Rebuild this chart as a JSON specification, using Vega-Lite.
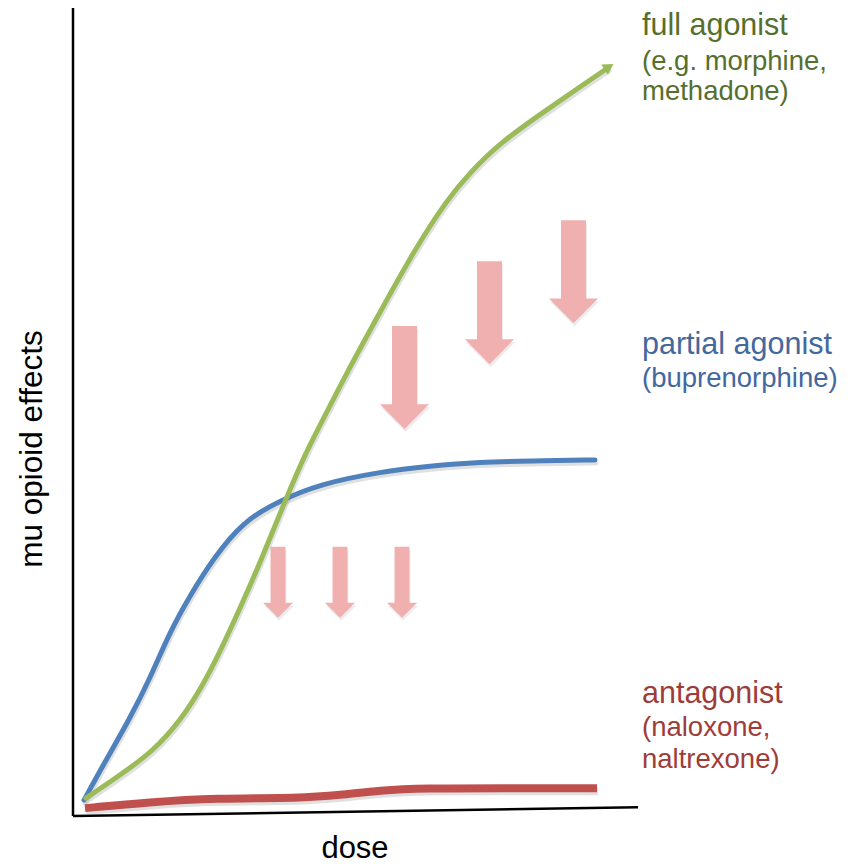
{
  "$schema": "https://vega.github.io/schema/vega-lite/v6.json",
  "width": 853,
  "height": 864,
  "padding": 0,
  "autosize": {"type": "fit", "contains": "padding"},
  "background": "white",
  "config": {"view": {"stroke": null}},
  "datasets": {
    "curves": [
      {"series": "full", "dose": 13, "effect": 18},
      {"series": "full", "dose": 47, "effect": 41},
      {"series": "full", "dose": 80, "effect": 65},
      {"series": "full", "dose": 107, "effect": 95},
      {"series": "full", "dose": 130, "effect": 131},
      {"series": "full", "dose": 150, "effect": 171},
      {"series": "full", "dose": 170, "effect": 215},
      {"series": "full", "dose": 190, "effect": 261},
      {"series": "full", "dose": 210, "effect": 311},
      {"series": "full", "dose": 230, "effect": 358},
      {"series": "full", "dose": 240, "effect": 378},
      {"series": "full", "dose": 274, "effect": 445},
      {"series": "full", "dose": 307, "effect": 505},
      {"series": "full", "dose": 340, "effect": 565},
      {"series": "full", "dose": 374, "effect": 618},
      {"series": "full", "dose": 397, "effect": 645},
      {"series": "full", "dose": 427, "effect": 675},
      {"series": "full", "dose": 474, "effect": 708},
      {"series": "full", "dose": 507, "effect": 731},
      {"series": "full", "dose": 535, "effect": 750},
      {"series": "partial", "dose": 11, "effect": 16},
      {"series": "partial", "dose": 30, "effect": 51},
      {"series": "partial", "dose": 57, "effect": 98},
      {"series": "partial", "dose": 77, "effect": 138},
      {"series": "partial", "dose": 97, "effect": 185},
      {"series": "partial", "dose": 117, "effect": 221},
      {"series": "partial", "dose": 140, "effect": 258},
      {"series": "partial", "dose": 170, "effect": 295},
      {"series": "partial", "dose": 204, "effect": 315},
      {"series": "partial", "dose": 247, "effect": 333},
      {"series": "partial", "dose": 307, "effect": 345},
      {"series": "partial", "dose": 357, "effect": 351},
      {"series": "partial", "dose": 407, "effect": 355},
      {"series": "partial", "dose": 457, "effect": 356},
      {"series": "partial", "dose": 522, "effect": 357},
      {"series": "antagonist", "dose": 12, "effect": 8},
      {"series": "antagonist", "dose": 77, "effect": 14},
      {"series": "antagonist", "dose": 141, "effect": 18},
      {"series": "antagonist", "dose": 227, "effect": 18},
      {"series": "antagonist", "dose": 267, "effect": 21},
      {"series": "antagonist", "dose": 307, "effect": 26},
      {"series": "antagonist", "dose": 351, "effect": 28},
      {"series": "antagonist", "dose": 427, "effect": 28},
      {"series": "antagonist", "dose": 524, "effect": 28}
    ],
    "axes": [
      {"dose": 0, "effect": 0, "dose2": 0, "effect2": 810},
      {"dose": 0, "effect": 0, "dose2": 565, "effect2": 9}
    ],
    "bigArrows": [
      {"dose": 331.5, "effect": 439.5},
      {"dose": 416.5, "effect": 504.5},
      {"dose": 500.5, "effect": 545.5}
    ],
    "smallArrows": [
      {"dose": 205, "effect": 234.5},
      {"dose": 267, "effect": 234.5},
      {"dose": 329, "effect": 234.5}
    ],
    "head": [{"dose": 536, "effect": 751}],
    "mainLabels": [
      {"series": "full", "dose": 569, "effect": 783, "label": "full agonist"},
      {"series": "partial", "dose": 569, "effect": 463, "label": "partial agonist"},
      {"series": "antagonist", "dose": 569, "effect": 113, "label": "antagonist"}
    ],
    "subLabels": [
      {"series": "full", "dose": 569, "effect": 748, "label": "(e.g. morphine,"},
      {"series": "full", "dose": 569, "effect": 718, "label": "methadone)"},
      {"series": "partial", "dose": 569, "effect": 430, "label": "(buprenorphine)"},
      {"series": "antagonist", "dose": 569, "effect": 80, "label": "(naloxone,"},
      {"series": "antagonist", "dose": 569, "effect": 48, "label": "naltrexone)"}
    ]
  },
  "encoding": {
    "x": {"field": "dose", "type": "quantitative", "scale": {"domain": [-73, 780], "nice": false, "zero": false}, "axis": null},
    "y": {"field": "effect", "type": "quantitative", "scale": {"domain": [-46, 818], "nice": false, "zero": false}, "axis": null}
  },
  "layer": [
    {
      "data": {"name": "axes"},
      "mark": {"type": "rule", "color": "black", "strokeWidth": 2.5},
      "encoding": {
        "x2": {"field": "dose2"},
        "y2": {"field": "effect2"}
      }
    },
    {
      "data": {"name": "bigArrows"},
      "mark": {"type": "point", "filled": true, "opacity": 1, "color": "#c9c9c9", "fillOpacity": 0.35, "strokeWidth": 0, "size": 10609, "xOffset": 1, "yOffset": 3, "shape": "M-0.243,-1L0.243,-1L0.243,0.515L0.476,0.515L0,1L-0.476,0.515L-0.243,0.515Z"}
    },
    {
      "data": {"name": "bigArrows"},
      "mark": {"type": "point", "filled": true, "opacity": 1, "color": "#f1b0b0", "strokeWidth": 0, "size": 10609, "shape": "M-0.243,-1L0.243,-1L0.243,0.515L0.476,0.515L0,1L-0.476,0.515L-0.243,0.515Z"}
    },
    {
      "data": {"name": "smallArrows"},
      "mark": {"type": "point", "filled": true, "opacity": 1, "color": "#c9c9c9", "fillOpacity": 0.35, "strokeWidth": 0, "size": 5041, "xOffset": 1, "yOffset": 3, "shape": "M-0.211,-1L0.211,-1L0.211,0.577L0.423,0.577L0,1L-0.423,0.577L-0.211,0.577Z"}
    },
    {
      "data": {"name": "smallArrows"},
      "mark": {"type": "point", "filled": true, "opacity": 1, "color": "#f1b0b0", "strokeWidth": 0, "size": 5041, "shape": "M-0.211,-1L0.211,-1L0.211,0.577L0.423,0.577L0,1L-0.423,0.577L-0.211,0.577Z"}
    },
    {
      "data": {"name": "curves"},
      "transform": [{"filter": "datum.series !== 'antagonist'"}],
      "mark": {"type": "line", "interpolate": "basis", "strokeWidth": 5, "strokeCap": "round", "color": "#999999", "strokeOpacity": 0.3, "xOffset": 1, "yOffset": 3},
      "encoding": {"detail": {"field": "series"}}
    },
    {
      "data": {"name": "curves"},
      "transform": [{"filter": "datum.series === 'antagonist'"}],
      "mark": {"type": "line", "interpolate": "basis", "strokeWidth": 8, "strokeCap": "butt", "color": "#999999", "strokeOpacity": 0.3, "xOffset": 1, "yOffset": 3},
      "encoding": {}
    },
    {
      "data": {"name": "curves"},
      "transform": [{"filter": "datum.series === 'antagonist'"}],
      "mark": {"type": "line", "interpolate": "basis", "strokeWidth": 8, "strokeCap": "butt", "color": "#c0504d"},
      "encoding": {}
    },
    {
      "data": {"name": "curves"},
      "transform": [{"filter": "datum.series === 'partial'"}],
      "mark": {"type": "line", "interpolate": "basis", "strokeWidth": 5, "strokeCap": "round", "color": "#4f81bd"},
      "encoding": {}
    },
    {
      "data": {"name": "curves"},
      "transform": [{"filter": "datum.series === 'full'"}],
      "mark": {"type": "line", "interpolate": "basis", "strokeWidth": 5, "strokeCap": "round", "color": "#9bbb59"},
      "encoding": {}
    },
    {
      "data": {"name": "head"},
      "mark": {"type": "point", "shape": "triangle-right", "filled": true, "opacity": 1, "color": "#9bbb59", "size": 150, "angle": 327}
    },
    {
      "data": {"name": "mainLabels"},
      "mark": {"type": "text", "align": "left", "baseline": "alphabetic", "font": "Liberation Sans", "fontSize": 30.5},
      "encoding": {
        "text": {"field": "label"},
        "color": {"field": "series", "type": "nominal", "scale": {"domain": ["full", "partial", "antagonist"], "range": ["#566f2e", "#43689e", "#9e3c3a"]}, "legend": null}
      }
    },
    {
      "data": {"name": "subLabels"},
      "mark": {"type": "text", "align": "left", "baseline": "alphabetic", "font": "Liberation Sans", "fontSize": 27.5},
      "encoding": {
        "text": {"field": "label"},
        "color": {"field": "series", "type": "nominal", "scale": {"domain": ["full", "partial", "antagonist"], "range": ["#566f2e", "#43689e", "#9e3c3a"]}, "legend": null}
      }
    },
    {
      "data": {"values": [{"dose": -31, "effect": 368, "label": "mu opioid effects"}]},
      "mark": {"type": "text", "align": "center", "baseline": "alphabetic", "angle": 270, "font": "Liberation Sans", "fontSize": 31.5, "color": "black"},
      "encoding": {"text": {"field": "label"}}
    },
    {
      "data": {"values": [{"dose": 282, "effect": -42, "label": "dose"}]},
      "mark": {"type": "text", "align": "center", "baseline": "alphabetic", "font": "Liberation Sans", "fontSize": 31, "color": "black"},
      "encoding": {"text": {"field": "label"}}
    }
  ]
}
